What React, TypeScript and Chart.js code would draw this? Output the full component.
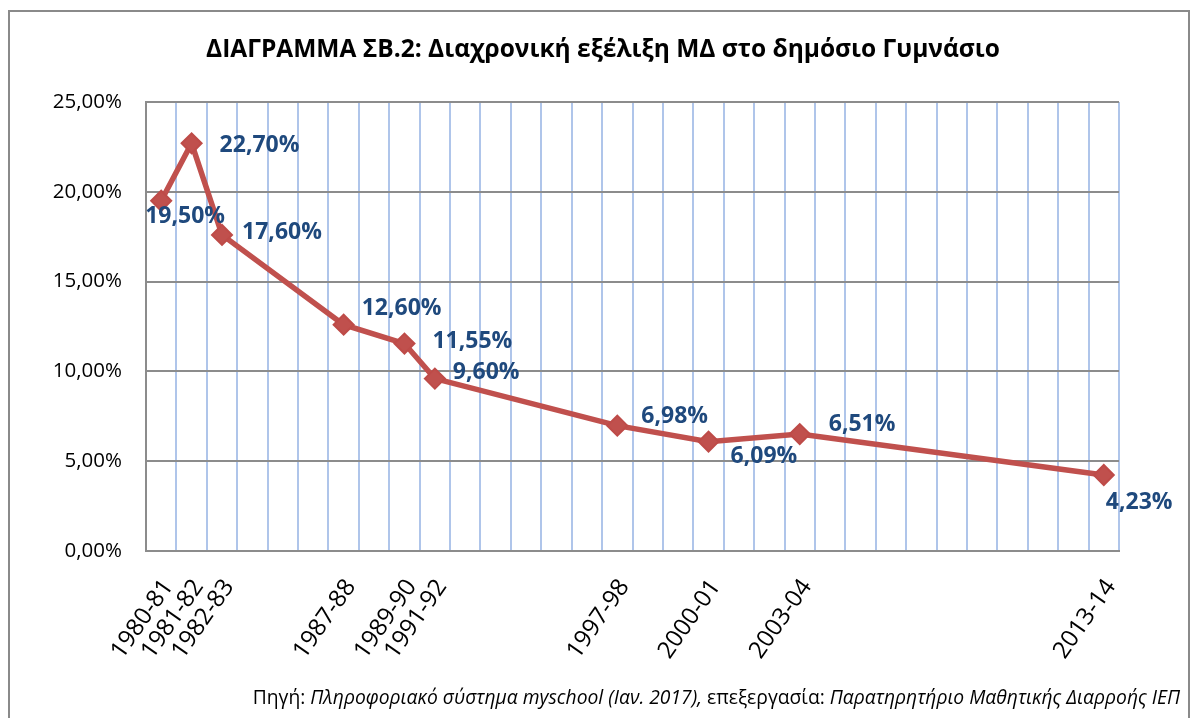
import React, { useEffect, useRef } from "react";
import { Chart, registerables } from "chart.js";

Chart.register(...registerables);

// School years on the category axis (blank slots are years without data)
const categories: string[] = [
  "1980-81", "1981-82", "1982-83", "", "", "",
  "1987-88", "", "1989-90", "1991-92", "", "", "", "", "",
  "1997-98", "", "", "2000-01", "", "", "2003-04",
  "", "", "", "", "", "", "", "", "", "2013-14",
];

// Dropout rate (%) in the public Gymnasium
const dropoutRates: (number | null)[] = [
  19.5, 22.7, 17.6, null, null, null,
  12.6, null, 11.55, 9.6, null, null, null, null, null,
  6.98, null, null, 6.09, null, null, 6.51,
  null, null, null, null, null, null, null, null, null, 4.23,
];

const yTickValues: number[] = [0, 5, 10, 15, 20, 25];

const titleText = "ΔΙΑΓΡΑΜΜΑ ΣΒ.2: Διαχρονική εξέλιξη ΜΔ στο δημόσιο Γυμνάσιο";

// Label placement (style only): offset of label's left/middle from the point
const labelOffsets: Record<string, [number, number]> = {
  "1980-81": [-16, 16],
  "1981-82": [28, 2],
  "1982-83": [20, -2],
  "1987-88": [18, -16],
  "1989-90": [28, -2],
  "1991-92": [18, -6],
  "1997-98": [24, -9],
  "2000-01": [22, 15],
  "2003-04": [29, -10],
  "2013-14": [2, 27],
};

const fmt = (v: number) => v.toFixed(2).replace(".", ",") + "%";

const dataLabelPlugin = {
  id: "dataLabels",
  afterDatasetsDraw(chart: any) {
    const ctx = chart.ctx;
    const meta = chart.getDatasetMeta(0);
    ctx.save();
    ctx.font = "bold 23px 'Open Sans'";
    ctx.fillStyle = "#1F497D";
    ctx.textAlign = "left";
    ctx.textBaseline = "middle";
    meta.data.forEach((pt: any, i: number) => {
      const v = dropoutRates[i];
      if (v === null || v === undefined) return;
      const off = labelOffsets[categories[i]] || [10, 0];
      ctx.fillText(fmt(v), pt.x + off[0], pt.y + off[1]);
    });
    ctx.restore();
  },
};

export default function App() {
  const canvasRef = useRef<HTMLCanvasElement | null>(null);

  useEffect(() => {
    if (!canvasRef.current) return;
    const chart = new Chart(canvasRef.current, {
      type: "line",
      data: {
        labels: categories,
        datasets: [
          {
            data: dropoutRates,
            borderColor: "#C0504D",
            backgroundColor: "#C0504D",
            borderWidth: 5.5,
            pointStyle: "rectRot",
            pointRadius: 10,
            pointBorderWidth: 2,
            pointBackgroundColor: "#C0504D",
            pointBorderColor: "#BE4B48",
            spanGaps: true,
            tension: 0,
          },
        ],
      },
      options: {
        animation: false,
        responsive: false,
        maintainAspectRatio: false,
        layout: { padding: { left: 0, right: 73, top: 102, bottom: 0 } },
        plugins: {
          legend: { display: false },
          tooltip: { enabled: false },
          title: { display: false },
        },
        scales: {
          x: {
            type: "category",
            offset: true,
            grid: {
              offset: true,
              drawTicks: false,
              color: (c: any) => (c.index === 0 ? "rgba(0,0,0,0)" : "#AFC5EA"),
              lineWidth: 2,
            },
            border: { color: "#8C8C8C", width: 2 },
            ticks: {
              autoSkip: false,
              maxRotation: 55,
              minRotation: 55,
              padding: 23,
              labelOffset: 7,
              color: "#000",
              font: { family: "'Open Sans'", size: 24 },
              callback: (_v: any, i: number) => categories[i],
            },
            afterFit: (s: any) => {
              s.height = 167;
            },
          },
          y: {
            min: 0,
            max: 25,
            afterBuildTicks: (s: any) => {
              s.ticks = yTickValues.map((v) => ({ value: v }));
            },
            grid: { drawTicks: false, color: "#8C8C8C", lineWidth: 2 },
            border: { color: "#8C8C8C", width: 2 },
            ticks: {
              padding: 24,
              color: "#000",
              font: { family: "'Open Sans'", size: 20.5 },
              callback: (v: any) => Number(v).toFixed(2).replace(".", ",") + "%",
            },
            afterFit: (s: any) => {
              s.width = 146;
            },
          },
        },
      },
      plugins: [dataLabelPlugin],
    });
    return () => chart.destroy();
  }, []);

  return (
    <div style={{ position: "absolute", left: 0, top: 0, width: 1192, height: 718, overflow: "hidden", background: "#fff" }}>
      <div
        style={{
          position: "absolute",
          left: 8,
          top: 10,
          width: 1182,
          height: 730,
          border: "2px solid #8A8A8A",
          boxSizing: "border-box",
        }}
      />
      <canvas ref={canvasRef} width={1192} height={718} style={{ position: "absolute", left: 0, top: 0 }} />
      <div
        style={{
          position: "absolute",
          left: 0,
          width: 1206,
          top: 31,
          textAlign: "center",
          fontFamily: "'Open Sans'",
          fontWeight: "bold",
          fontSize: 24.5,
          lineHeight: "34px",
          color: "#000",
          whiteSpace: "nowrap",
        }}
      >
        {titleText}
      </div>
      <div
        style={{
          position: "absolute",
          right: 12,
          top: 684,
          fontFamily: "'Open Sans'",
          fontSize: 19.3,
          lineHeight: "26px",
          color: "#000",
          whiteSpace: "nowrap",
        }}
      >
        Πηγή: <i>Πληροφοριακό σύστημα myschool (Ιαν. 2017),</i> επεξεργασία: <i>Παρατηρητήριο Μαθητικής Διαρροής ΙΕΠ</i>
      </div>
    </div>
  );
}
